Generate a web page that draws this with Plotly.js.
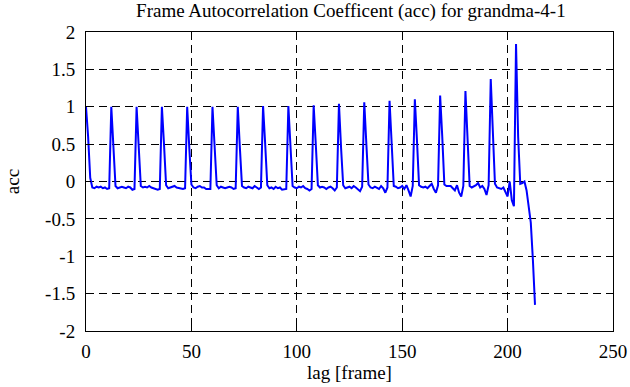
<!DOCTYPE html>
<html>
<head>
<meta charset="utf-8">
<script src="https://cdn.plot.ly/plotly-3.0.1.min.js"></script>
<style>
html,body{margin:0;padding:0;background:#fff;}
#chart{width:630px;height:387px;}
#chart svg text{font-family:'Liberation Serif','Times New Roman',serif !important;}
</style>
</head>
<body>
<div id="chart"></div>
<script>
var chartTitle = "Frame Autocorrelation Coefficent (acc) for grandma-4-1";
var xTitle = "lag [frame]";
var yTitle = "acc";
var xTickVals = [0, 50, 100, 150, 200, 250];
var yTickVals = [-2, -1.5, -1, -0.5, 0, 0.5, 1, 1.5, 2];
var yTickText = ["-2", "-1.5", "-1", "-0.5", "0", "0.5", "1", "1.5", "2"];
var lagStart = 0;
// acc value per lag (lag 0 .. 213)
var accValues = [
  1.0, 0.6, 0.05, -0.08, -0.09, -0.07, -0.08, -0.07, -0.09, -0.08, -0.1, -0.09,
  1.0, 0.45, -0.06, -0.09, -0.08, -0.07, -0.08, -0.09, -0.07, -0.08, -0.11, -0.1,
  1.0, 0.45, -0.06, -0.08, -0.07, -0.08, -0.06, -0.08, -0.09, -0.1, -0.11, -0.1,
  1.0, 0.5, -0.05, -0.09, -0.08, -0.08, -0.06, -0.08, -0.09, -0.1, -0.1, -0.09,
  1.0, 0.45, -0.04, -0.08, -0.09, -0.07, -0.06, -0.08, -0.08, -0.1, -0.1, -0.1,
  1.0, 0.5, -0.05, -0.09, -0.07, -0.08, -0.09, -0.08, -0.07, -0.08, -0.1, -0.09,
  1.0, 0.45, -0.06, -0.08, -0.09, -0.07, -0.08, -0.09, -0.06, -0.08, -0.1, -0.08,
  1.01, 0.5, -0.05, -0.09, -0.08, -0.1, -0.07, -0.09, -0.08, -0.11, -0.11, -0.1,
  1.01, 0.45, -0.06, -0.08, -0.09, -0.07, -0.08, -0.06, -0.09, -0.1, -0.12, -0.1,
  1.02, 0.5, -0.05, -0.08, -0.07, -0.08, -0.1, -0.08, -0.07, -0.09, -0.12, -0.08,
  1.04, 0.45, -0.05, -0.09, -0.08, -0.07, -0.09, -0.06, -0.08, -0.1, -0.13, -0.07,
  1.06, 0.5, -0.04, -0.08, -0.09, -0.07, -0.08, -0.1, -0.06, -0.09, -0.15, -0.08,
  1.08, 0.55, -0.06, -0.07, -0.09, -0.08, -0.06, -0.1, -0.05, -0.12, -0.2, -0.06,
  1.1, 0.55, -0.05, -0.07, -0.08, -0.07, -0.09, -0.06, -0.03, -0.1, -0.15, -0.05,
  1.15, 0.6, -0.04, -0.06, -0.06, -0.06, -0.09, -0.12, -0.05, -0.15, -0.2, -0.06,
  1.21, 0.65, -0.06, -0.08, -0.07, -0.05, -0.02, -0.08, -0.06, -0.1, -0.18, -0.05,
  1.37, 0.7, -0.03, -0.08, -0.09, -0.1, -0.08, -0.15, -0.2, 0.0, -0.25, -0.33,
  1.84, 0.6, -0.03, -0.02, 0.0, -0.12, -0.35, -0.55, -1.05, -1.65
];

var fontFam = "Liberation Serif, Times New Roman, serif";
function f(sz) { return {family: fontFam, size: sz, color: "#000"}; }

var trace = {
  type: "scatter",
  mode: "lines",
  y: accValues,
  x0: lagStart,
  dx: 1,
  line: {color: "#0000ff", width: 2},
  showlegend: false,
  hoverinfo: "x+y"
};

function axis() {
  return {
    showline: true,
    mirror: "allticks",
    linecolor: "#000",
    linewidth: 1,
    ticks: "inside",
    ticklen: 5,
    tickcolor: "#000",
    showgrid: true,
    gridcolor: "#000",
    gridwidth: 1,
    griddash: "8px,5px",
    zeroline: false,
    automargin: false,
    tickfont: f(19)
  };
}

var xa = axis();
xa.range = [0, 250];
xa.tickmode = "array";
xa.tickvals = xTickVals;
xa.ticklabelstandoff = 3;
xa.title = {text: xTitle, font: f(19), standoff: 4};

var ya = axis();
ya.range = [-2, 2];
ya.tickmode = "array";
ya.tickvals = yTickVals;
ya.ticktext = yTickText;
ya.ticklabelstandoff = 6;
ya.title = {text: yTitle, font: f(19), standoff: 20};

var layout = {
  width: 630,
  height: 387,
  font: f(19),
  paper_bgcolor: "#fff",
  plot_bgcolor: "#fff",
  margin: {l: 86, r: 17, t: 32, b: 56},
  title: {
    text: chartTitle,
    font: f(19),
    x: 0.557, xanchor: "center",
    y: 0.972, yanchor: "middle"
  },
  xaxis: xa,
  yaxis: ya
};

Plotly.newPlot("chart", [trace], layout, {displayModeBar: false, staticPlot: true});
</script>
</body>
</html>
